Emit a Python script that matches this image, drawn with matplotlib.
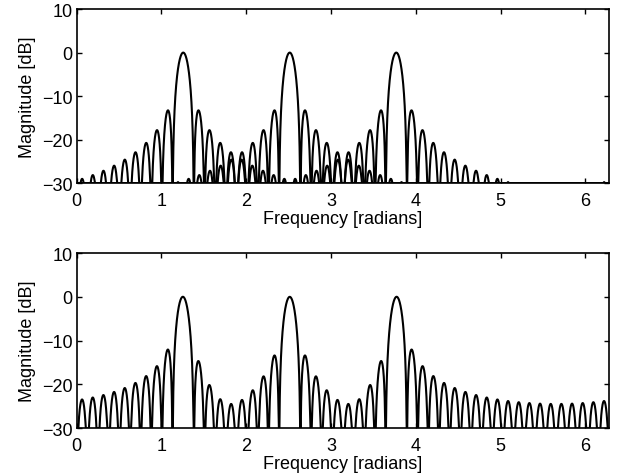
import numpy as np
import matplotlib
matplotlib.use("Agg")
import matplotlib.pyplot as plt

# Signal parameters
peak_freqs = [2 * np.pi * 0.2, 2 * np.pi * 0.4, 2 * np.pi * 0.6]  # radians
amplitudes = [1.0, 1.0, 1.0]
n_samples = 50
db_floor = -30
x_ticks = [0, 1, 2, 3, 4, 5, 6]
y_ticks = [-30, -20, -10, 0, 10]
x_label = "Frequency [radians]"
y_label = "Magnitude [dB]"

plt.rcParams['font.family'] = ['Liberation Sans', 'DejaVu Sans']
plt.rcParams['font.size'] = 13

nfft = 8192
w = np.arange(nfft) * 2 * np.pi / nfft
n = np.arange(n_samples)

def spectrum(sig):
    X = np.fft.fft(sig, nfft) / n_samples
    return np.maximum(20 * np.log10(np.abs(X) + 1e-12), db_floor)

fig = plt.figure(figsize=(6.22, 4.77), dpi=100)
ax1 = fig.add_axes([0.1233, 0.6136, 0.8563, 0.3654])
ax2 = fig.add_axes([0.1233, 0.1000, 0.8563, 0.3675])

total = np.zeros(n_samples, dtype=complex)
for f, a in zip(peak_freqs, amplitudes):
    s = a * np.exp(1j * f * n)
    total += s
    ax1.plot(w, spectrum(s), color='black', lw=1.5)
ax2.plot(w, spectrum(total), color='black', lw=1.5)

for ax in (ax1, ax2):
    ax.set_xlim(0, 2 * np.pi)
    ax.set_ylim(-30, 10)
    ax.set_xticks(x_ticks)
    ax.set_yticks(y_ticks)
    ax.tick_params(direction='in', top=True, right=True, length=3.5, width=1.0)
    ax.tick_params(axis='x', pad=6)
    ax.tick_params(axis='y', pad=3)
    for sp in ax.spines.values():
        sp.set_linewidth(1.2)
    ax.set_xlabel(x_label, labelpad=1)
    ax.set_ylabel(y_label, labelpad=4)

fig.savefig("out.png", dpi=100)
